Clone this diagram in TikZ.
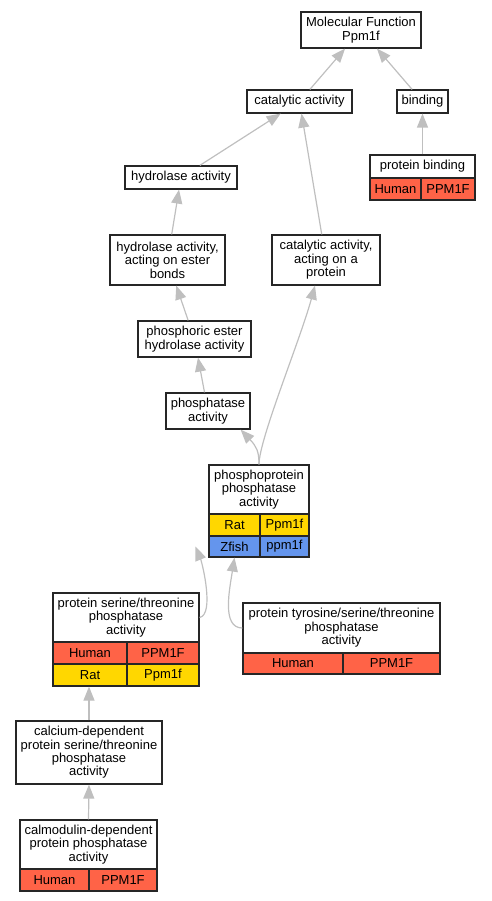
\documentclass[tikz,border=0pt]{standalone}
\usepackage{fontspec}
\setmainfont{Liberation Sans}
\usepackage{tikz}
\usetikzlibrary{calc, shapes, arrows.meta}
\definecolor{tomato}{HTML}{FF6347}
\definecolor{goldy}{HTML}{FFD700}
\definecolor{cornflower}{HTML}{6495ED}

\begin{document}
\begin{tikzpicture}[x=1pt,y=-1pt]
\tikzstyle{term}=[rectangle,draw=black!85,line width=1.2pt,fill=white,inner sep=0pt,align=center,font=\fontsize{13}{13.4}\selectfont]
\tikzstyle{human}=[term,fill=tomato]
\tikzstyle{rat}=[term,fill=goldy]
\tikzstyle{zfish}=[term,fill=cornflower]
\tikzstyle{isa}=[draw=gray!50,line width=1.2pt,-{Triangle[length=14pt,width=11pt]}]
\useasboundingbox (0,0) rectangle (491,901);
\node[term,minimum width=120pt,minimum height=36pt] (T_mf) at (361,30) {Molecular Function\\Ppm1f};
\node[term,minimum width=105pt,minimum height=23pt] (T_cat) at (299.5,101.5) {catalytic activity};
\node[term,minimum width=51pt,minimum height=23pt] (T_bind) at (422.5,101.5) {binding};
\node[term,minimum width=112pt,minimum height=23pt] (T_hyd) at (181,177.5) {hydrolase activity};
\node[term,minimum width=105pt,minimum height=23pt] (T_pb) at (422.5,166.5) {protein binding};
\node[human,minimum width=51pt,minimum height=22pt] (T_pb_h) at (395.5,189) {Human};
\node[human,minimum width=54pt,minimum height=22pt] (T_pb_g) at (448,189) {PPM1F};
\node[term,minimum width=115pt,minimum height=50pt] (T_est) at (167.5,260) {hydrolase activity,\\acting on ester\\bonds};
\node[term,minimum width=108pt,minimum height=50pt] (T_cap) at (326,260) {catalytic activity,\\acting on a\\protein};
\node[term,minimum width=113pt,minimum height=36pt] (T_peh) at (194.5,339) {phosphoric ester\\hydrolase activity};
\node[term,minimum width=84pt,minimum height=36pt] (T_pha) at (208,411) {phosphatase\\activity};
\node[term,minimum width=100pt,minimum height=49pt] (T_ppp) at (259,489.5) {phosphoprotein\\phosphatase\\activity};
\node[rat,minimum width=51pt,minimum height=22pt] (T_ppp_rt) at (234.5,525) {Rat};
\node[rat,minimum width=49pt,minimum height=22pt] (T_ppp_rg) at (284.5,525) {Ppm1f};
\node[zfish,minimum width=51pt,minimum height=21pt] (T_ppp_zf) at (234.5,546.5) {Zfish};
\node[zfish,minimum width=49pt,minimum height=21pt] (T_ppp_zg) at (284.5,546.5) {ppm1f};
\node[term,minimum width=146pt,minimum height=49pt] (T_pst) at (126,617.5) {protein serine/threonine\\phosphatase\\activity};
\node[human,minimum width=74pt,minimum height=22pt] (T_pst_h) at (90,653) {Human};
\node[human,minimum width=72pt,minimum height=22pt] (T_pst_hg) at (163,653) {PPM1F};
\node[rat,minimum width=74pt,minimum height=22pt] (T_pst_rt) at (90,675) {Rat};
\node[rat,minimum width=72pt,minimum height=22pt] (T_pst_rg) at (163,675) {Ppm1f};
\node[term,minimum width=197pt,minimum height=50pt] (T_tyr) at (341.5,628) {protein tyrosine/serine/threonine\\phosphatase\\activity};
\node[human,minimum width=100pt,minimum height=21pt] (T_tyr_h) at (293,663.5) {Human};
\node[human,minimum width=97pt,minimum height=21pt] (T_tyr_g) at (391.5,663.5) {PPM1F};
\node[term,minimum width=146pt,minimum height=63pt] (T_cal) at (89,752.5) {calcium-dependent\\protein serine/threonine\\phosphatase\\activity};
\node[term,minimum width=137pt,minimum height=49pt] (T_cam) at (88.5,844.5) {calmodulin-dependent\\protein phosphatase\\activity};
\node[human,minimum width=69pt,minimum height=22pt] (T_cam_h) at (54.5,880) {Human};
\node[human,minimum width=68pt,minimum height=22pt] (T_cam_g) at (123,880) {PPM1F};
% is_a edges, child to parent
\draw[isa] (T_cat) -- (T_mf);
\draw[isa] (T_bind) -- (T_mf);
\draw[isa] (T_pb.north) -- (T_bind.south);
\draw[isa] (T_hyd) -- (T_cat);
\draw[isa] (T_cap) -- (T_cat);
\draw[isa] (T_est) -- (T_hyd);
\draw[isa] (T_peh) -- (T_est);
\draw[isa] (T_pha) -- (T_peh);
\draw[isa] (T_ppp.north) .. controls +(0,-13) and +(16,17) .. ([xshift=-10pt]T_pha.south east);
\draw[isa] (T_ppp.north) .. controls +(0,-25) and +(-15,55) .. ([xshift=-11pt]T_cap.south);
\draw[isa] (T_pst.east) .. controls +(15,-3) and +(7,17) .. ([xshift=-13pt]T_ppp_zf.west);
\draw[isa] (T_tyr.west) .. controls +(-21,0) and +(-5,32) .. (T_ppp_zf.south);
\draw[isa] (T_cal.north) -- (T_cal.north |- T_pst_rt.south);
\draw[isa] (T_cam.north) -- (T_cal.south);
\end{tikzpicture}
\end{document}
